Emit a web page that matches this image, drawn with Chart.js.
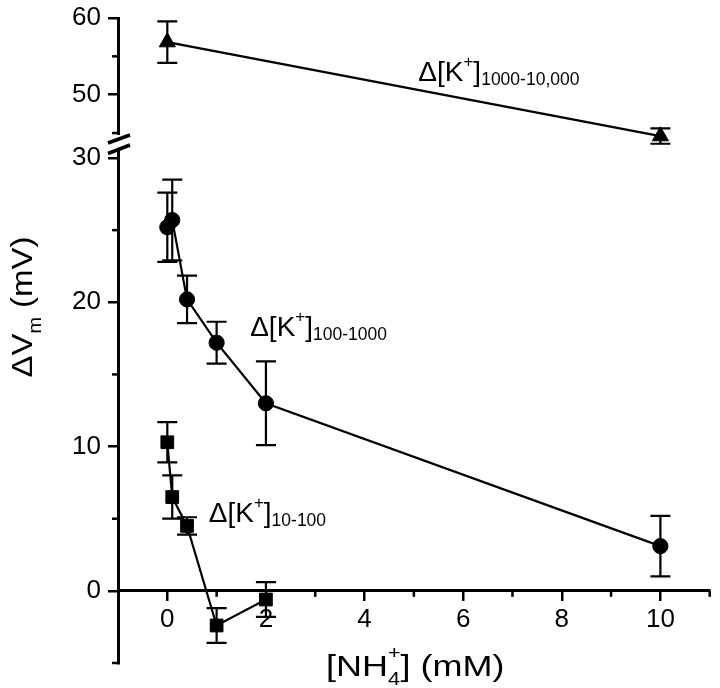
<!DOCTYPE html>
<html>
<head>
<meta charset="utf-8">
<script src="https://cdn.jsdelivr.net/npm/chart.js@4.4.1/dist/chart.umd.min.js"></script>
<style>
  body{margin:0;background:#fff}
  #box{width:720px;height:688px}
</style>
</head>
<body>
<div id="box"><canvas id="plot" width="720" height="688"></canvas></div>
<script>
// [NH4+] (mM) vs dVm (mV), one set per K+ step
const nh4_10_100 = [0, 0.1, 0.4, 1, 2];
const dv_10_100 = [10.3, 6.5, 4.5, -2.4, -0.6];
const err_10_100 = [1.4, 1.5, 0.6, 1.2, 1.2];

const nh4_100_1000 = [0, 0.1, 0.4, 1, 2, 10];
const dv_100_1000 = [25.2, 25.7, 20.2, 17.2, 13.0, 3.1];
const err_100_1000 = [2.4, 2.8, 1.65, 1.45, 2.9, 2.1];

const nh4_1000_10000 = [0, 10];
const dv_1000_10000 = [56.85, 44.6];
const err_1000_10000 = [2.7, 1.0];

// axis ticks (major get labels, minor are short marks)
const xTicks = [0, 2, 4, 6, 8, 10];
const xMinor = [1, 3, 5, 7, 9, 11];
const yTopTicks = [50, 60];
const yTopMinor = [45, 55];
const yBotTicks = [0, 10, 20, 30];
const yBotMinor = [-5, 5, 15, 25];

const FONT = "'Liberation Sans', Arial, Helvetica, sans-serif";

const toPoints = (xs, ys) => xs.map((x, i) => ({x: x, y: ys[i]}));

// draws a string made of pieces with sub/superscripts
function richText(ctx, x, y, parts, opt) {
    opt = opt || {};
    ctx.save();
    ctx.translate(x, y);
    if (opt.rot) ctx.rotate(opt.rot);
    ctx.scale(opt.sx || 1, 1);
    ctx.fillStyle = '#000';
    ctx.textBaseline = 'alphabetic';
    ctx.textAlign = 'left';
    let w = 0;
    parts.forEach(p => {
        ctx.font = p.size + 'px ' + FONT;
        if (!p.hold) w += ctx.measureText(p.t).width;
    });
    let cx = opt.center ? -w / 2 : 0;
    parts.forEach(p => {
        ctx.font = p.size + 'px ' + FONT;
        ctx.fillText(p.t, cx, p.dy || 0);
        if (!p.hold) cx += ctx.measureText(p.t).width;
    });
    ctx.restore();
}

const kLabel = (sub) => [
    {t: 'Δ[K', size: 28},
    {t: '+', size: 17, dy: -14},
    {t: ']', size: 28},
    {t: sub, size: 17.5, dy: 3.5}
];

const extras = {
    id: 'extras',
    beforeDatasetsDraw(chart) {
        const ctx = chart.ctx;
        const sx = chart.scales.x;
        const left = chart.chartArea.left;
        ctx.save();
        ctx.strokeStyle = '#000';
        ctx.lineWidth = 2.5;

        // minor ticks
        const axisY = chart.scales.yBot.getPixelForValue(0);
        xMinor.forEach(v => {
            const px = sx.getPixelForValue(v);
            ctx.beginPath();
            ctx.moveTo(px, axisY);
            ctx.lineTo(px, axisY + 6);
            ctx.stroke();
        });
        [['yTop', yTopMinor], ['yBot', yBotMinor]].forEach(([id, vals]) => {
            vals.forEach(v => {
                const py = chart.scales[id].getPixelForValue(v);
                ctx.beginPath();
                ctx.moveTo(left - 6, py);
                ctx.lineTo(left, py);
                ctx.stroke();
            });
        });

        // axis break
        const b = chart.scales.yTop.bottom;
        ctx.fillStyle = '#fff';
        ctx.fillRect(left - 4, b - 9, 8, 15);
        ctx.lineWidth = 3.5;
        ctx.beginPath();
        ctx.moveTo(left - 10, b - 1);
        ctx.lineTo(left + 12, b - 9);
        ctx.moveTo(left - 10, b + 9.5);
        ctx.lineTo(left + 12, b + 1);
        ctx.stroke();

        // error bars
        ctx.lineWidth = 2.2;
        chart.data.datasets.forEach((ds, i) => {
            const meta = chart.getDatasetMeta(i);
            const ys = chart.scales[ds.yAxisID];
            meta.data.forEach((pt, j) => {
                const v = ds.data[j].y;
                const e = ds.errors[j];
                const t = ys.getPixelForValue(v + e);
                const bt = ys.getPixelForValue(v - e);
                ctx.beginPath();
                ctx.moveTo(pt.x, t);
                ctx.lineTo(pt.x, bt);
                ctx.moveTo(pt.x - 10, t);
                ctx.lineTo(pt.x + 10, t);
                ctx.moveTo(pt.x - 10, bt);
                ctx.lineTo(pt.x + 10, bt);
                ctx.stroke();
            });
        });
        ctx.restore();
    },
    afterDraw(chart) {
        const ctx = chart.ctx;
        const sx = chart.scales.x;
        const top = chart.scales.yTop;
        const bot = chart.scales.yBot;

        richText(ctx, sx.getPixelForValue(5.09), top.getPixelForValue(51.73), kLabel('1000-10,000'));
        richText(ctx, sx.getPixelForValue(1.68), bot.getPixelForValue(17.63), kLabel('100-1000'));
        richText(ctx, sx.getPixelForValue(0.84), bot.getPixelForValue(4.76), kLabel('10-100'));

        // axis titles
        richText(ctx, 32, 307, [
            {t: 'ΔV', size: 30},
            {t: 'm', size: 18, dy: 9},
            {t: ' (mV)', size: 30}
        ], {rot: -Math.PI / 2, center: true, sx: 1.1});
        richText(ctx, 326, 676, [
            {t: '[NH', size: 30},
            {t: '4', size: 18, dy: 9, hold: true},
            {t: '+', size: 18, dy: -17},
            {t: '] (mM)', size: 30}
        ], {sx: 1.2});
    }
};

const yAxisFit = (scale) => {
    scale.width = 118;
    scale.paddingTop = 0;
    scale.paddingBottom = 0;
};

const tickSetter = (vals) => (scale) => {
    scale.ticks = vals.map(v => ({value: v}));
};

const axisGrid = {drawOnChartArea: false, drawTicks: true, tickLength: 10, color: '#000', lineWidth: 2.5};
const axisBorder = {display: true, color: '#000', width: 3};

const chart = new Chart(document.getElementById('plot'), {
    type: 'line',
    data: {
        datasets: [
            {
                label: '10-100',
                data: toPoints(nh4_10_100, dv_10_100),
                errors: err_10_100,
                yAxisID: 'yBot',
                pointStyle: 'rect',
                pointRadius: 9,
                borderColor: '#000',
                backgroundColor: '#000',
                borderWidth: 2.2,
                pointBorderWidth: 1,
                tension: 0,
                clip: false
            },
            {
                label: '100-1000',
                data: toPoints(nh4_100_1000, dv_100_1000),
                errors: err_100_1000,
                yAxisID: 'yBot',
                pointStyle: 'circle',
                pointRadius: 7.6,
                borderColor: '#000',
                backgroundColor: '#000',
                borderWidth: 2.2,
                pointBorderWidth: 1,
                tension: 0,
                clip: false
            },
            {
                label: '1000-10,000',
                data: toPoints(nh4_1000_10000, dv_1000_10000),
                errors: err_1000_10000,
                yAxisID: 'yTop',
                pointStyle: 'triangle',
                pointRadius: 9.3,
                borderColor: '#000',
                backgroundColor: '#000',
                borderWidth: 2.2,
                pointBorderWidth: 1,
                tension: 0,
                clip: false
            }
        ]
    },
    options: {
        responsive: false,
        animation: false,
        layout: {padding: {top: 18, right: 6, bottom: 25, left: 0}},
        plugins: {
            legend: {display: false},
            tooltip: {enabled: false}
        },
        scales: {
            x: {
                type: 'linear',
                min: -1,
                max: 11,
                position: {yBot: 0},
                afterBuildTicks: tickSetter(xTicks),
                afterFit: (scale) => { scale.paddingLeft = 0; scale.paddingRight = 0; },
                grid: {drawOnChartArea: false, drawTicks: true, tickLength: 9, color: '#000', lineWidth: 2.5},
                border: axisBorder,
                ticks: {color: '#000', padding: 4, font: {family: FONT, size: 26}, maxRotation: 0, autoSkip: false}
            },
            yBot: {
                type: 'linear',
                position: 'left',
                stack: 'vm',
                stackWeight: 519,
                min: -5,
                max: 30.97,
                afterBuildTicks: tickSetter(yBotTicks),
                afterFit: yAxisFit,
                grid: axisGrid,
                border: axisBorder,
                ticks: {color: '#000', padding: 7, font: {family: FONT, size: 26}}
            },
            yTop: {
                type: 'linear',
                position: 'left',
                stack: 'vm',
                stackWeight: 126,
                min: 43.57,
                max: 60,
                afterBuildTicks: tickSetter(yTopTicks),
                afterFit: yAxisFit,
                grid: axisGrid,
                border: axisBorder,
                ticks: {color: '#000', padding: 7, font: {family: FONT, size: 26}}
            }
        }
    },
    plugins: [extras]
});
</script>
</body>
</html>
